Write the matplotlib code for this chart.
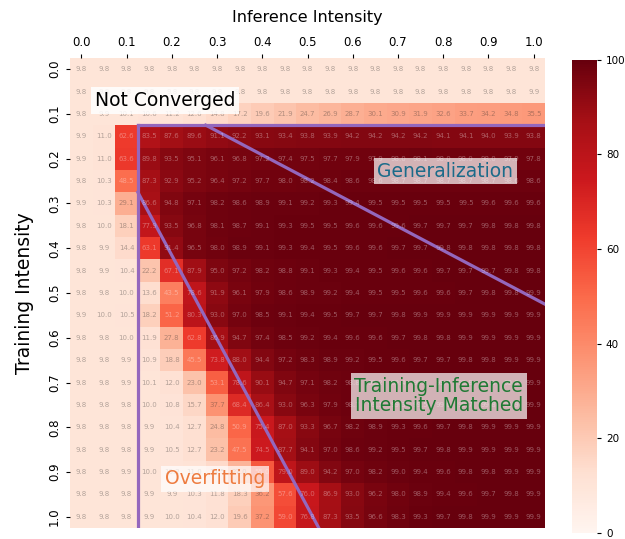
import numpy as np
import matplotlib
matplotlib.use("Agg")
import matplotlib.pyplot as plt
import seaborn as sns

intensity = [round(0.05 * i, 2) for i in range(21)]
tick_labels = ["0.0", "0.1", "0.2", "0.3", "0.4", "0.5", "0.6", "0.7", "0.8", "0.9", "1.0"]

acc_rows = [
    [9.8, 9.8, 9.8, 9.8, 9.8, 9.8, 9.8, 9.8, 9.8, 9.8, 9.8, 9.8, 9.8, 9.8, 9.8, 9.8, 9.8, 9.8, 9.8, 9.8, 9.8],
    [9.8, 9.8, 9.8, 9.8, 9.8, 9.8, 9.8, 9.8, 9.8, 9.8, 9.8, 9.8, 9.8, 9.8, 9.8, 9.8, 9.8, 9.8, 9.8, 9.8, 9.9],
    [9.8, 9.9, 10.1, 10.6, 11.2, 12.6, 14.8, 17.2, 19.6, 21.9, 24.7, 26.9, 28.7, 30.1, 30.9, 31.9, 32.6, 33.7, 34.2, 34.8, 35.5],
    [9.9, 11.0, 62.6, 83.5, 87.6, 89.6, 91.1, 92.2, 93.1, 93.4, 93.8, 93.9, 94.2, 94.2, 94.2, 94.2, 94.1, 94.1, 94.0, 93.9, 93.8],
    [9.9, 11.0, 63.6, 89.8, 93.5, 95.1, 96.1, 96.8, 97.2, 97.4, 97.5, 97.7, 97.9, 97.9, 98.0, 98.1, 98.0, 98.0, 98.0, 97.9, 97.8],
    [9.8, 10.3, 48.5, 87.3, 92.9, 95.2, 96.4, 97.2, 97.7, 98.0, 98.2, 98.4, 98.6, 98.6, 98.7, 98.7, 98.7, 98.7, 98.7, 98.6, 98.6],
    [9.9, 10.3, 29.1, 86.6, 94.8, 97.1, 98.2, 98.6, 98.9, 99.1, 99.2, 99.3, 99.4, 99.5, 99.5, 99.5, 99.5, 99.5, 99.6, 99.6, 99.6],
    [9.8, 10.0, 18.1, 77.9, 93.5, 96.8, 98.1, 98.7, 99.1, 99.3, 99.5, 99.5, 99.6, 99.6, 99.6, 99.7, 99.7, 99.7, 99.8, 99.8, 99.8],
    [9.8, 9.9, 14.4, 63.1, 91.4, 96.5, 98.0, 98.9, 99.1, 99.3, 99.4, 99.5, 99.6, 99.6, 99.7, 99.7, 99.8, 99.8, 99.8, 99.8, 99.8],
    [9.8, 9.9, 10.4, 22.2, 67.1, 87.9, 95.0, 97.2, 98.2, 98.8, 99.1, 99.3, 99.4, 99.5, 99.6, 99.6, 99.7, 99.7, 99.7, 99.8, 99.8],
    [9.8, 9.8, 10.0, 13.6, 43.5, 78.6, 91.9, 96.1, 97.9, 98.6, 98.9, 99.2, 99.4, 99.5, 99.5, 99.6, 99.6, 99.7, 99.8, 99.8, 99.9],
    [9.9, 10.0, 10.5, 18.2, 51.2, 80.3, 93.0, 97.0, 98.5, 99.1, 99.4, 99.5, 99.7, 99.7, 99.8, 99.9, 99.9, 99.9, 99.9, 99.9, 99.9],
    [9.8, 9.8, 10.0, 11.9, 27.8, 62.8, 86.9, 94.7, 97.4, 98.5, 99.2, 99.4, 99.6, 99.6, 99.7, 99.8, 99.8, 99.9, 99.9, 99.9, 99.9],
    [9.8, 9.8, 9.9, 10.9, 18.8, 45.5, 73.8, 88.0, 94.4, 97.2, 98.3, 98.9, 99.2, 99.5, 99.6, 99.7, 99.7, 99.8, 99.8, 99.9, 99.9],
    [9.8, 9.8, 9.9, 10.1, 12.0, 23.0, 53.1, 78.6, 90.1, 94.7, 97.1, 98.2, 98.8, 99.2, 99.4, 99.6, 99.7, 99.8, 99.8, 99.9, 99.9],
    [9.8, 9.8, 9.8, 10.0, 10.8, 15.7, 37.7, 68.4, 86.4, 93.0, 96.3, 97.9, 98.7, 99.1, 99.3, 99.5, 99.6, 99.7, 99.8, 99.9, 99.9],
    [9.8, 9.8, 9.8, 9.9, 10.4, 12.7, 24.8, 50.9, 75.4, 87.0, 93.3, 96.7, 98.2, 98.9, 99.3, 99.6, 99.7, 99.8, 99.9, 99.9, 99.9],
    [9.8, 9.8, 9.8, 9.9, 10.5, 12.7, 23.2, 47.5, 74.5, 87.7, 94.1, 97.0, 98.6, 99.2, 99.5, 99.7, 99.8, 99.9, 99.9, 99.9, 99.9],
    [9.8, 9.8, 9.9, 10.0, 10.2, 11.0, 14.5, 27.0, 55.0, 79.0, 89.0, 94.2, 97.0, 98.2, 99.0, 99.4, 99.6, 99.8, 99.8, 99.9, 99.9],
    [9.8, 9.8, 9.8, 9.9, 9.9, 10.3, 11.8, 18.3, 36.2, 57.6, 76.0, 86.9, 93.0, 96.2, 98.0, 98.9, 99.4, 99.6, 99.7, 99.8, 99.9],
    [9.8, 9.8, 9.8, 9.9, 10.0, 10.4, 12.0, 19.6, 37.2, 59.0, 76.8, 87.3, 93.5, 96.6, 98.3, 99.3, 99.7, 99.8, 99.9, 99.9, 99.9],
]
acc = np.array(acc_rows)

fig = plt.figure(figsize=(6.25, 5.39), dpi=100)
ax = fig.add_axes([0.112, 0.0204, 0.76, 0.872])
cax = fig.add_axes([0.915, 0.011, 0.04, 0.878])

sns.heatmap(acc, ax=ax, cbar_ax=cax, cmap="Reds", vmin=0, vmax=100,
            annot=True, fmt=".1f", annot_kws={"size": 5, "alpha": 0.35},
            xticklabels=False, yticklabels=False)

ticks = np.arange(0, 21, 2) + 0.5
ax.xaxis.tick_top()
ax.xaxis.set_label_position("top")
ax.set_xticks(ticks)
ax.set_xticklabels(tick_labels, fontsize=8.5)
ax.set_yticks(ticks)
ax.set_yticklabels(tick_labels, fontsize=8.5, rotation=90, va="center")
ax.tick_params(axis="both", length=3)
ax.set_xlabel("Inference Intensity", fontsize=11.5, labelpad=10)
ax.set_ylabel("Training Intensity", fontsize=13.5, labelpad=10)

cax.tick_params(labelsize=7.5, length=3)
cax.set_ylabel("Accuracy (%)", fontsize=7.5, labelpad=12)

lc = "#9467bd"
lw = 2.3
ax.plot([3, 21], [3, 3], color=lc, lw=lw)
ax.plot([3, 3], [3, 21], color=lc, lw=lw)
ax.plot([6, 21], [3, 11], color=lc, lw=lw)
ax.plot([3, 11], [6, 21], color=lc, lw=lw)

box = dict(boxstyle="square,pad=0.2", facecolor="white", edgecolor="none", alpha=0.7)
ax.text(4.2, 1.9, "Not Converged", fontsize=13.5, color="black", ha="center", va="center", bbox=dict(box, alpha=0.85))
ax.text(16.6, 5.05, "Generalization", fontsize=13.5, color="#1b6b8a", ha="center", va="center", bbox=box)
ax.text(16.3, 15.1, "Training-Inference\nIntensity Matched", fontsize=13.5, color="#1f7a34",
        ha="center", va="center", linespacing=1.05, bbox=box)
ax.text(6.4, 18.8, "Overfitting", fontsize=13.5, color="#ee7c40", ha="center", va="center", bbox=box)

fig.savefig("out.png", dpi=100)
